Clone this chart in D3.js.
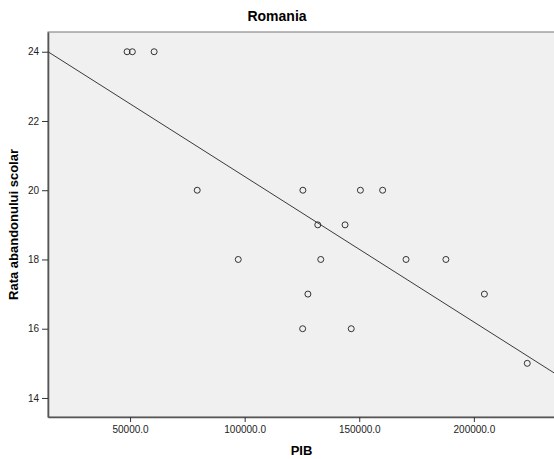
<!DOCTYPE html>
<html>
<head>
<meta charset="utf-8">
<script src="https://cdn.jsdelivr.net/npm/d3@7"></script>
<style>
  html, body { margin: 0; padding: 0; background: #fff; overflow: hidden; }
  svg { display: block; font-family: "Liberation Sans", Arial, sans-serif; }
</style>
</head>
<body>
<div id="container"></div>
<script>
(function(){

    // ---------------------------------------------------------------- data
    const title  = "Romania";
    const xLabel = "PIB";
    const yLabel = "Rata abandonului scolar";

    // PIB values and dropout rates
    const pib  = [48700, 51000, 60500,
                  79300, 125400, 150500, 160200,
                  131900, 143800,
                  97200, 133200, 170400, 187800,
                  127600, 204600,
                  125300, 146500,
                  223300];
    const rata = [24, 24, 24,
                  20, 20, 20, 20,
                  19, 19,
                  18, 18, 18, 18,
                  17, 17,
                  16, 16,
                  15];

    const xTicks = [50000, 100000, 150000, 200000];
    const yTicks = [14, 16, 18, 20, 22, 24];

    // fit line: rata = intercept + slope * pib
    const fitIntercept = 24.596;
    const fitSlope = -4.201e-5;

    // -------------------------------------------------------------- layout
    const width = 554, height = 459;
    const margin = {top: 32, right: -1, bottom: 42, left: 48};

    const x = d3.scaleLinear([14200, 235400], [margin.left, width - margin.right]);
    const y = d3.scaleLinear([13.45, 24.57], [height - margin.bottom, margin.top]);

    const svg = d3.select("#container").append("svg")
        .attr("width", width)
        .attr("height", height);

    svg.append("clipPath").attr("id", "clip")
      .append("rect")
        .attr("x", margin.left).attr("y", margin.top)
        .attr("width", width - margin.right - margin.left)
        .attr("height", height - margin.bottom - margin.top);

    // plot background + frame
    svg.append("rect")
        .attr("x", margin.left).attr("y", margin.top)
        .attr("width", width - margin.right - margin.left)
        .attr("height", height - margin.bottom - margin.top)
        .attr("fill", "#f0f0f0")
        .attr("stroke", "#777")
        .attr("stroke-width", 1);

    // axes
    const xAxis = svg.append("g")
        .attr("transform", `translate(0,${height - margin.bottom})`)
        .call(d3.axisBottom(x).tickValues(xTicks).tickFormat(d3.format(".1f"))
                .tickSize(5).tickPadding(4).tickSizeOuter(0));

    const yAxis = svg.append("g")
        .attr("transform", `translate(${margin.left},0)`)
        .call(d3.axisLeft(y).tickValues(yTicks).tickFormat(d3.format("d"))
                .tickSize(6).tickPadding(3).tickSizeOuter(0));

    [xAxis, yAxis].forEach(g => {
        g.select(".domain").attr("stroke", "#555").attr("stroke-width", 1.6);
        g.selectAll(".tick line").attr("stroke", "#333");
        g.selectAll(".tick text")
            .attr("fill", "#222")
            .style("font-size", "10px")
            .style("font-family", "\"Liberation Sans\", Arial, sans-serif");
    });

    // fit line
    const xd = x.domain();
    svg.append("line")
        .attr("clip-path", "url(#clip)")
        .attr("x1", x(xd[0])).attr("y1", y(fitIntercept + fitSlope * xd[0]))
        .attr("x2", x(xd[1])).attr("y2", y(fitIntercept + fitSlope * xd[1]))
        .attr("stroke", "#3a3a3a")
        .attr("stroke-width", 1);

    // points
    svg.append("g")
        .selectAll("circle")
        .data(d3.zip(pib, rata))
        .join("circle")
        .attr("cx", d => x(d[0]))
        .attr("cy", d => y(d[1]))
        .attr("r", 3)
        .attr("fill", "none")
        .attr("stroke", "#333")
        .attr("stroke-width", 1);

    // titles
    svg.append("text")
        .attr("x", width / 2)
        .attr("y", 21)
        .attr("text-anchor", "middle")
        .style("font", "bold 14px \"Liberation Sans\", Arial, sans-serif")
        .text(title);

    svg.append("text")
        .attr("x", (margin.left + width - margin.right) / 2)
        .attr("y", 455)
        .attr("text-anchor", "middle")
        .style("font", "bold 13px \"Liberation Sans\", Arial, sans-serif")
        .text(xLabel);

    svg.append("text")
        .attr("transform", `translate(18,${(margin.top + height - margin.bottom) / 2}) rotate(-90)`)
        .attr("text-anchor", "middle")
        .style("font", "bold 13px \"Liberation Sans\", Arial, sans-serif")
        .text(yLabel);

})();
</script>
</body>
</html>
